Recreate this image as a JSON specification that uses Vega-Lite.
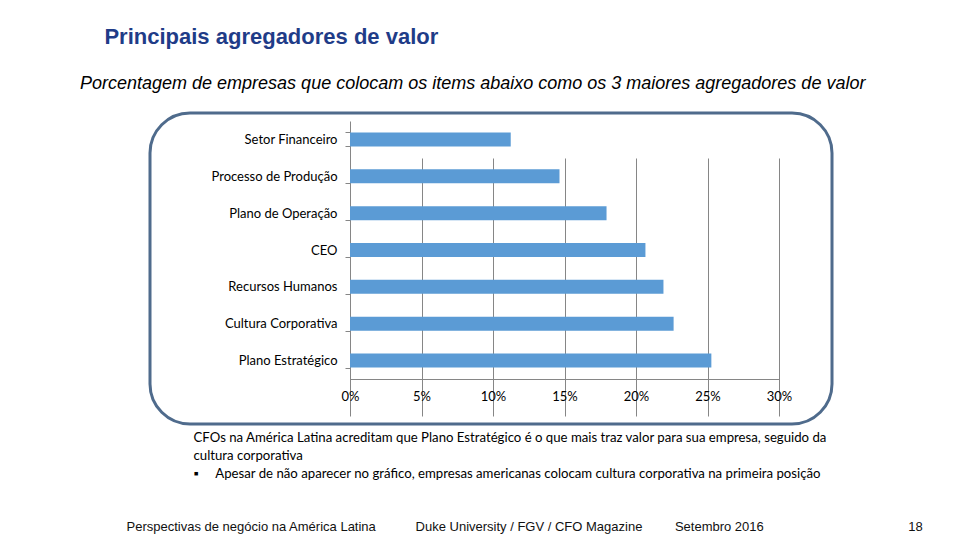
{
  "$schema": "https://vega.github.io/schema/vega-lite/v6.json",
  "description": "Principais agregadores de valor - horizontal bar chart",
  "autosize": {"type": "none"},
  "padding": {"left": 150, "top": 113, "right": 128, "bottom": 116},
  "width": 682,
  "height": 311,
  "background": "white",
  "title": {
    "text": "\u200b\u00a0\u00a0\u00a0\u00a0Principais agregadores de valor",
    "subtitle": "Porcentagem de empresas que colocam os items abaixo como os 3 maiores agregadores de valor",
    "anchor": "start",
    "frame": "group",
    "dx": -70,
    "offset": 13,
    "font": "Liberation Sans",
    "fontSize": 22,
    "fontWeight": "bold",
    "color": "#1f3c88",
    "subtitleFont": "Liberation Sans",
    "subtitleFontSize": 18,
    "subtitleFontStyle": "italic",
    "subtitleColor": "black",
    "subtitlePadding": 26
  },
  "data": {
    "values": [
      {"item": "Setor Financeiro", "pct": 0.1124},
      {"item": "Processo de Produção", "pct": 0.1465},
      {"item": "Plano de Operação", "pct": 0.1794},
      {"item": "CEO", "pct": 0.2066},
      {"item": "Recursos Humanos", "pct": 0.2192},
      {"item": "Cultura Corporativa", "pct": 0.2263},
      {"item": "Plano Estratégico", "pct": 0.2527}
    ]
  },
  "mark": {"type": "bar", "color": "#5b9bd5"},
  "encoding": {
    "y": {
      "field": "item",
      "type": "nominal",
      "sort": null,
      "scale": {"range": [8, 266], "paddingInner": 0.62, "paddingOuter": 0.31},
      "axis": {
        "offset": -200,
        "tickBand": "extent",
        "title": "Perspectivas de negócio na América Latina\u00a0\u00a0\u00a0\u00a0\u00a0\u00a0\u00a0\u00a0\u00a0\u00a0\u00a0Duke University / FGV / CFO Magazine\u00a0\u00a0\u00a0\u00a0\u00a0\u00a0\u00a0\u00a0\u00a0Setembro 2016\u00a0\u00a0\u00a0\u00a0\u00a0\u00a0\u00a0\u00a0\u00a0\u00a0\u00a0\u00a0\u00a0\u00a0\u00a0\u00a0\u00a0\u00a0\u00a0\u00a0\u00a0\u00a0\u00a0\u00a0\u00a0\u00a0\u00a0\u00a0\u00a0\u00a0\u00a0\u00a0\u00a0\u00a0\u00a0\u00a0\u00a0\u00a0\u00a0\u00a018",
        "titleAngle": 0,
        "titleX": -224,
        "titleY": 417,
        "titleAlign": "left",
        "titleBaseline": "alphabetic",
        "titleFont": "Liberation Sans",
        "titleFontSize": 13,
        "titleFontWeight": "normal",
        "titleColor": "#111111",
        "labelFont": "Lato",
        "labelFontSize": 13,
        "labelColor": "black",
        "labelPadding": 8,
        "tickSize": 5,
        "domainColor": "#868686",
        "tickColor": "#868686",
        "grid": false
      }
    },
    "x": {
      "field": "pct",
      "type": "quantitative",
      "scale": {"domain": [0, 0.3], "range": [200, 629], "nice": false},
      "axis": {
        "offset": -45,
        "values": [0, 0.05, 0.1, 0.15, 0.2, 0.25, 0.3],
        "format": ".0%",
        "grid": true,
        "gridColor": "#868686",
        "gridOpacity": 1,
        "domainColor": "#868686",
        "tickColor": "#868686",
        "tickSize": 5,
        "labelFlush": false,
        "labelPadding": 6,
        "labelFont": "Lato",
        "labelFontSize": 13,
        "labelColor": "black",
        "title": [
          "CFOs na América Latina acreditam que Plano Estratégico é o que mais traz valor para sua empresa, seguido da",
          "cultura corporativa",
          "\u00a0▪\u00a0\u00a0\u00a0\u00a0\u00a0Apesar de não aparecer no gráfico, empresas americanas colocam cultura corporativa na primeira posição"
        ],
        "titleX": 43,
        "titleY": 52,
        "titleAlign": "left",
        "titleBaseline": "top",
        "titleLineHeight": 18,
        "titleFont": "Lato",
        "titleFontSize": 13.2,
        "titleFontWeight": "normal",
        "titleColor": "black"
      }
    }
  },
  "config": {
    "view": {"stroke": "#4f6b8c", "strokeWidth": 3, "cornerRadius": 40}
  }
}
